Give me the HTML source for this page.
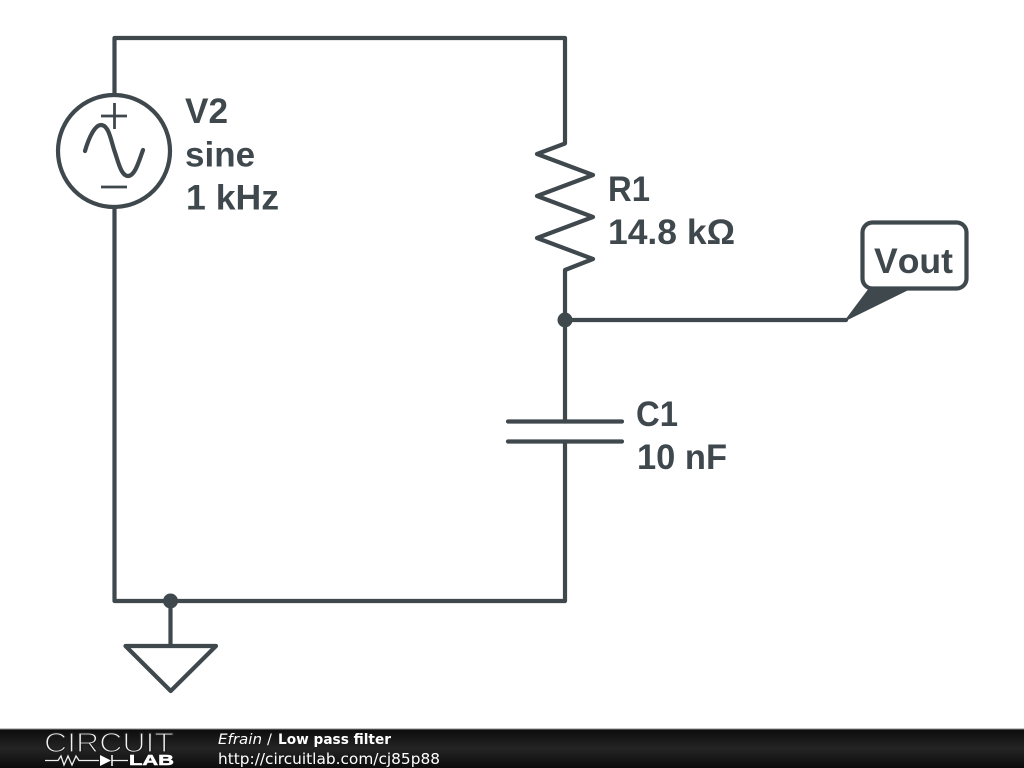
<!DOCTYPE html>
<html><head><meta charset="utf-8"><title>Low pass filter</title>
<style>html,body{margin:0;padding:0;background:#fff}svg{display:block}</style></head>
<body>
<svg width="1024" height="768" viewBox="0 0 1024 768" xmlns="http://www.w3.org/2000/svg">
<defs><linearGradient id="g" x1="0" y1="0" x2="0" y2="1"><stop offset="0" stop-color="#0c0c0c"/><stop offset="0.5" stop-color="#242424"/><stop offset="1" stop-color="#0c0c0c"/></linearGradient></defs>
<rect width="1024" height="768" fill="#fff"/>
<g fill="none" stroke="#3f484d" stroke-width="4.200" stroke-linejoin="round" stroke-linecap="round">
<path d="M114.500 94V38H565V143.500L537 154L593 175L537 196L593 217L537 238L593 259L565 270V421.500M565 441.500V601H114.500V207"/>
<circle cx="114" cy="151" r="56"/>
<path d="M85 151C89 137 95 125 101 125C109 125 111 141 114.500 151C118 161 121 176 128 176C135 176 139 161 143 150"/>
<path d="M565 320H846M508 421.500H622M508 441.500H622M170.500 601V646M125.500 646H216L170.700 691Z"/>
<rect x="862.500" y="222.500" width="104" height="66" rx="10"/>
</g>
<path d="M101 116H127M114.500 103V129M101 187H127" fill="none" stroke="#3f484d" stroke-width="2.800"/>
<path d="M846 320L870 288H911Z" fill="#3f484d" stroke="#3f484d" stroke-width="1.500" stroke-linejoin="round"/>
<circle cx="565" cy="320" r="7.500" fill="#3f484d"/>
<circle cx="170.500" cy="601" r="7.500" fill="#3f484d"/>
<g font-family="'Liberation Sans',sans-serif" font-weight="700" font-size="35" fill="#3f484d" style="font-kerning:none">
<text x="185" y="123" textLength="43" lengthAdjust="spacingAndGlyphs">V2</text>
<text x="185" y="166.500">sine</text>
<text x="186" y="209.500" textLength="93" lengthAdjust="spacingAndGlyphs">1 kHz</text>
<text x="608" y="201" textLength="42" lengthAdjust="spacingAndGlyphs">R1</text>
<text x="608" y="244" textLength="127" lengthAdjust="spacingAndGlyphs">14.8 kΩ</text>
<text x="636" y="426" textLength="42" lengthAdjust="spacingAndGlyphs">C1</text>
<text x="637" y="469" textLength="90" lengthAdjust="spacingAndGlyphs">10 nF</text>
<text x="874" y="273" textLength="79" lengthAdjust="spacingAndGlyphs">Vout</text>
</g>
<rect y="729" width="1024" height="39" fill="url(#g)"/>
<rect y="728.500" width="1024" height="1" fill="#8a8a8a"/>
<text x="44" y="752" font-family="'Liberation Sans',sans-serif" font-size="27.500" textLength="130" lengthAdjust="spacingAndGlyphs" fill="#f2f2f2" stroke="#1c1c1c" stroke-width="1.300">CIRCUIT</text>
<path d="M45 760.500H58L61 756L64 765L68 756L72 765L76 756L79 760.500H99M112 760.500H128" fill="none" stroke="#eee" stroke-width="1.300"/>
<path d="M100 755V766L111 760.500Z" fill="#fff"/>
<path d="M112 755V766" stroke="#fff" stroke-width="1.500"/>
<text x="129" y="765" font-family="'Liberation Sans',sans-serif" font-size="14.500" font-weight="700" textLength="45" lengthAdjust="spacingAndGlyphs" fill="#fff" stroke="#fff" stroke-width="0.500">LAB</text>
<g font-family="'DejaVu Sans',sans-serif" fill="#fff">
<text x="218" y="744" font-size="14.500" font-style="italic" textLength="44" lengthAdjust="spacingAndGlyphs">Efrain</text>
<text x="267" y="744" font-size="14.500">/</text>
<text x="278" y="744" font-size="14" font-weight="700" textLength="113" lengthAdjust="spacingAndGlyphs">Low pass filter</text>
<text x="218" y="764" font-size="15.400" textLength="222" lengthAdjust="spacingAndGlyphs">http://circuitlab.com/cj85p88</text>
</g>
</svg>
</body></html>
